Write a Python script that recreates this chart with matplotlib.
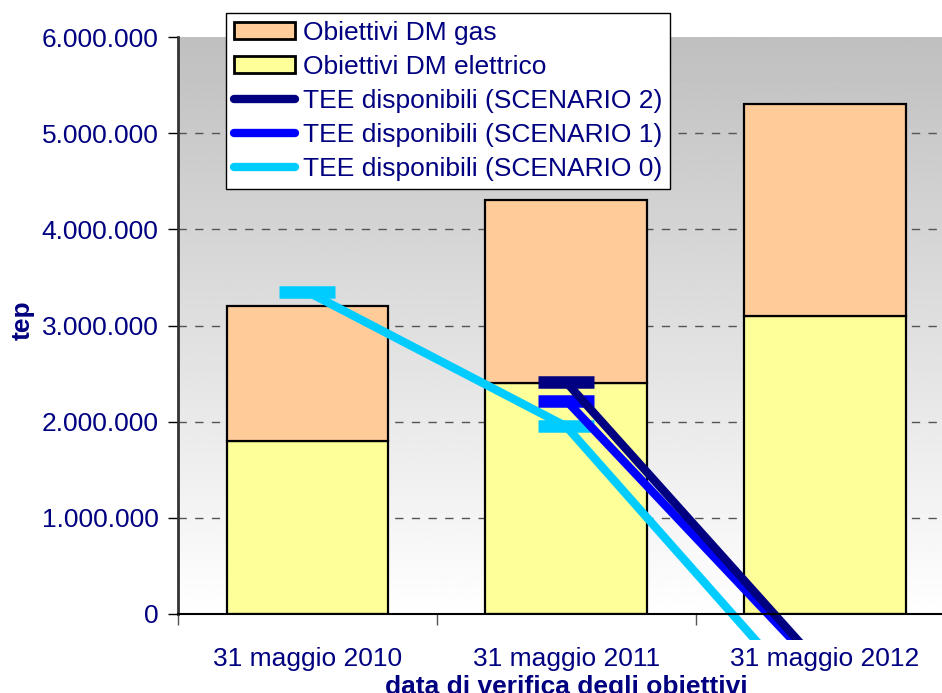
import matplotlib
matplotlib.use('Agg')
import matplotlib.pyplot as plt
from matplotlib.patches import Rectangle, Patch
from matplotlib.lines import Line2D
from matplotlib.ticker import FuncFormatter, FixedLocator
import numpy as np

plt.rcParams['font.family'] = ['Liberation Sans', 'DejaVu Sans']
plt.rcParams['font.size'] = 19

# dati
categorie = ['31 maggio 2010', '31 maggio 2011', '31 maggio 2012']
dm_elettrico = [1800000, 2400000, 3100000]
dm_gas = [1400000, 1900000, 2200000]
scenario_0 = [3350000, 1950000, -1090000]
scenario_1 = [np.nan, 2220000, -630000]
scenario_2 = [np.nan, 2410000, -590000]

NAVY = '#000080'

fig = plt.figure(figsize=(9.42, 6.93), dpi=100)
ax = fig.add_axes([0.189, 0.114, 0.8243, 0.8326])

x = np.arange(len(categorie))
ax.set_xlim(-0.5, 2.5)
ax.set_ylim(0, 6000000)

# sfondo sfumato grigio -> bianco
grad = np.linspace(0.75, 1.0, 256).reshape(-1, 1)
ax.imshow(grad, cmap='gray', vmin=0, vmax=1, aspect='auto',
          extent=[-0.5, 2.5, 0, 6000000], zorder=0)

# griglia
for v in range(1000000, 6000000, 1000000):
    ax.axhline(v, color='#555555', lw=1, ls=(0, (6, 6)), zorder=1)

w = 0.625
ax.bar(x, dm_elettrico, w, color='#FFFF99', edgecolor='black', lw=1.6, zorder=2)
ax.bar(x, dm_gas, w, bottom=dm_elettrico, color='#FFCC99', edgecolor='black', lw=1.6, zorder=2)

# linee TEE (escono sotto l'asse)
clip = Rectangle((0, 1 - 640 / 693), 1, 1, transform=fig.transFigure)
for serie, col in [(scenario_0, '#00CCFF'), (scenario_1, '#0000FF'), (scenario_2, NAVY)]:
    ln, = ax.plot(x, serie, color=col, lw=6, marker='_', ms=40, mew=9,
                  solid_capstyle='butt', zorder=4)
    ln.set_clip_path(clip)

# assi
for s in ['top', 'right']:
    ax.spines[s].set_visible(False)
ax.spines['left'].set_color('#333333')
ax.spines['left'].set_linewidth(2)
ax.spines['bottom'].set_linewidth(1.5)
ax.spines['left'].set_zorder(5)
ax.spines['bottom'].set_zorder(5)

ax.yaxis.set_major_locator(FixedLocator(range(0, 6000001, 1000000)))
ax.yaxis.set_major_formatter(FuncFormatter(lambda v, p: f"{int(v):,}".replace(',', '.')))
ax.tick_params(axis='y', colors='black', labelcolor=NAVY, length=7, width=1, pad=7)

ax.set_xticks(x)
ax.set_xticklabels(categorie)
ax.set_xticks([-0.5, 0.5, 1.5, 2.5], minor=True)
ax.tick_params(axis='x', which='major', length=0, labelcolor=NAVY, pad=24)
ax.tick_params(axis='x', which='minor', length=8, width=1, color='#555555')

ax.set_ylabel('tep', color=NAVY, fontweight='bold')
ax.yaxis.set_label_coords(-0.185, 0.51)
ax.set_xlabel('data di verifica degli obiettivi', color=NAVY, fontweight='bold')
ax.xaxis.set_label_coords(0.5, -0.106)

handles = [
    Patch(facecolor='#FFCC99', edgecolor='black', lw=2),
    Patch(facecolor='#FFFF99', edgecolor='black', lw=2),
    Line2D([], [], color=NAVY, lw=6, solid_capstyle='round'),
    Line2D([], [], color='#0000FF', lw=6, solid_capstyle='round'),
    Line2D([], [], color='#00CCFF', lw=6, solid_capstyle='round'),
]
labels = ['Obiettivi DM gas', 'Obiettivi DM elettrico',
          'TEE disponibili (SCENARIO 2)', 'TEE disponibili (SCENARIO 1)',
          'TEE disponibili (SCENARIO 0)']
leg = ax.legend(handles, labels, loc='upper left',
                bbox_to_anchor=(226 / 942, 1 - 13 / 693), bbox_transform=fig.transFigure,
                borderaxespad=0, fancybox=False, shadow=False, framealpha=1,
                edgecolor='black', handlelength=2.3, handleheight=0.6,
                handletextpad=0.3, labelspacing=0.38, borderpad=0.3)
leg.get_frame().set_linewidth(1)
for t in leg.get_texts():
    t.set_color(NAVY)
leg.set_zorder(10)

fig.savefig('out.png', dpi=100, facecolor='white')
